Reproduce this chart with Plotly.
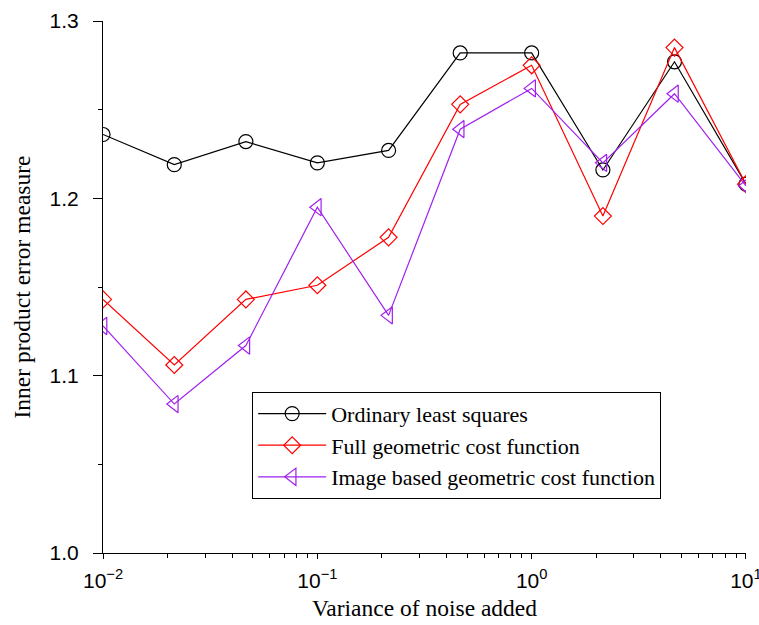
import plotly.graph_objects as go

# Noise variance levels (log-spaced)
noise_variance = [0.01, 0.0215, 0.0464, 0.1, 0.215, 0.464, 1.0, 2.15, 4.64, 10.0]

# Inner product error for each estimation method
ordinary_ls = [1.236, 1.219, 1.232, 1.220, 1.227, 1.282, 1.282, 1.216, 1.277, 1.208]
full_geometric = [1.143, 1.106, 1.143, 1.151, 1.178, 1.253, 1.275, 1.190, 1.285, 1.208]
image_geometric = [1.128, 1.084, 1.117, 1.195, 1.134, 1.239, 1.262, 1.220, 1.259, 1.207]

# Decade tick labels on the x axis
x_tick_vals = [0.01, 0.1, 1.0, 10.0]
x_tick_text = ["10<sup>\u22122</sup>", "10<sup>\u22121</sup>", "10<sup>0</sup>", "10<sup>1</sup>"]

series = [
    ("Ordinary least squares", ordinary_ls, "black", "circle-open", 14),
    ("Full geometric cost function", full_geometric, "red", "diamond-open", 13),
    ("Image based geometric cost function", image_geometric, "#a020f0", "triangle-left-open", 15),
]

fig = go.Figure()
for name, vals, color, symbol, size in series:
    fig.add_trace(go.Scatter(
        x=noise_variance, y=vals, name=name,
        mode="lines+markers",
        line=dict(color=color, width=1.2),
        marker=dict(symbol=symbol, size=size, color=color,
                    line=dict(color=color, width=1.2)),
    ))

tick_font = dict(family="Liberation Sans", size=21, color="black")
title_font = dict(family="Liberation Serif", size=23.5, color="black")

fig.update_layout(
    width=759, height=625,
    margin=dict(l=103, r=13, t=21, b=72),
    paper_bgcolor="white", plot_bgcolor="white",
    xaxis=dict(
        type="log", range=[-2.0002, 1.0002],
        tickmode="array", tickvals=x_tick_vals, ticktext=x_tick_text,
        ticklabeloverflow="allow", ticklabelstandoff=4,
        showgrid=False, zeroline=False, automargin=False,
        showline=True, linecolor="black", linewidth=1.2,
        ticks="outside", ticklen=5, tickcolor="black", tickwidth=1,
        minor=dict(ticks="outside", ticklen=4, dtick="D1", tickcolor="black", showgrid=False),
        tickfont=tick_font,
        title=dict(text="Variance of noise added", font=title_font, standoff=8),
    ),
    yaxis=dict(
        range=[1.0, 1.3], dtick=0.1, tickformat=".1f",
        ticklabelstandoff=10,
        showgrid=False, zeroline=False, automargin=False,
        showline=True, linecolor="black", linewidth=1.2,
        ticks="outside", ticklen=9, tickcolor="black", tickwidth=1,
        minor=dict(ticks="outside", ticklen=4, dtick=0.05, tickcolor="black", showgrid=False),
        tickfont=tick_font,
        title=dict(text="Inner product error measure", font=title_font, standoff=12),
    ),
    legend=dict(
        x=0.232, y=0.303, xanchor="left", yanchor="top",
        bgcolor="white", bordercolor="black", borderwidth=1,
        font=dict(family="Liberation Serif", size=22, color="black"),
        itemwidth=68, tracegroupgap=0,
    ),
    showlegend=True,
)

fig.write_html("out.html")
